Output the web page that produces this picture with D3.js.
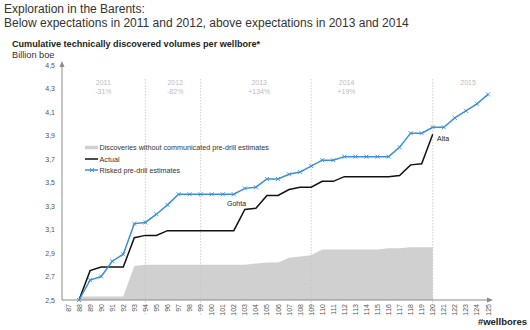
<!DOCTYPE html>
<html>
<head>
<meta charset="utf-8">
<script src="https://cdn.jsdelivr.net/npm/d3@7"></script>
<style>
  body { margin: 0; background: #fff; }
  svg { display: block; font-family: "Liberation Sans", Arial, sans-serif; }
</style>
</head>
<body>
<svg id="chart" width="530" height="330"></svg>
<script>
// wellbore numbers on the x axis
const wellbores = d3.range(87, 126);

const actualWells = d3.range(88, 121);
const actual = [2.5, 2.75, 2.78, 2.78, 2.78, 3.03, 3.05, 3.05, 3.09, 3.09, 3.09, 3.09, 3.09, 3.09, 3.09,
  3.27, 3.28, 3.39, 3.39, 3.44, 3.46, 3.46, 3.51, 3.51, 3.55, 3.55, 3.55, 3.55, 3.55, 3.56, 3.65, 3.66, 3.91];

const riskedWells = d3.range(88, 126);
const risked = [2.5, 2.67, 2.7, 2.83, 2.89, 3.15, 3.16, 3.23, 3.31, 3.4, 3.4, 3.4, 3.4, 3.4, 3.4,
  3.45, 3.46, 3.53, 3.53, 3.57, 3.59, 3.64, 3.69, 3.69, 3.72, 3.72, 3.72, 3.72, 3.72, 3.8, 3.92, 3.92, 3.97,
  3.97, 4.05, 4.11, 4.17, 4.25];

const noEstWells = d3.range(88, 121);
const noEst = [2.53, 2.53, 2.53, 2.53, 2.53, 2.79, 2.8, 2.8, 2.8, 2.8, 2.8, 2.8, 2.8, 2.8, 2.8,
  2.8, 2.81, 2.82, 2.82, 2.86, 2.87, 2.88, 2.93, 2.93, 2.93, 2.93, 2.93, 2.93, 2.94, 2.94, 2.95, 2.95, 2.95];

const yTicks = [2.5, 2.7, 2.9, 3.1, 3.3, 3.5, 3.7, 3.9, 4.1, 4.3, 4.5];
const yearBreaks = [94, 99, 109, 120];
const yearLabels = ["2011", "2012", "2013", "2014", "2015"];
const yearChanges = ["-31%", "-82%", "+134%", "+19%", ""];
const yearPos = [90.2, 96.7, 104.3, 112.2, 123.2];

const svg = d3.select("#chart");

const x = d3.scaleLinear().domain([87, 125]).range([68, 488]);
const y = d3.scaleLinear().domain([2.5, 4.5]).range([300, 65]);

const BLUE = "#3a90d8";
const AXIS = "#8a8a8a";

// titles
svg.append("text").attr("x", 4).attr("y", 13).attr("font-size", 12).attr("fill", "#333")
  .text("Exploration in the Barents:");
svg.append("text").attr("x", 4).attr("y", 27).attr("font-size", 12).attr("fill", "#333")
  .text("Below expectations in 2011 and 2012, above expectations in 2013 and 2014");
svg.append("text").attr("x", 12).attr("y", 47).attr("font-size", 9.1).attr("font-weight", "bold")
  .attr("fill", "#222").text("Cumulative technically discovered volumes per wellbore*");
svg.append("text").attr("x", 12).attr("y", 57.5).attr("font-size", 9.2).attr("fill", "#333")
  .text("Billion boe");

// grey area
const area = d3.area()
  .x((d, i) => x(noEstWells[i]))
  .y0(y(2.5))
  .y1(d => y(d));
svg.append("path").datum(noEst).attr("d", area).attr("fill", "#d0d0d0");

// year separators
svg.append("g").selectAll("line").data(yearBreaks).join("line")
  .attr("x1", d => x(d)).attr("x2", d => x(d))
  .attr("y1", 79).attr("y2", 316)
  .attr("stroke", "#c4c4c4").attr("stroke-width", 0.8).attr("stroke-dasharray", "1.5,1.5");

// year annotations
const yr = svg.append("g").attr("font-size", 7).attr("fill", "#bdbdbd").attr("text-anchor", "middle");
yr.selectAll(".yl").data(yearLabels).join("text").attr("class", "yl")
  .attr("x", (d, i) => x(yearPos[i])).attr("y", 85).text(d => d);
yr.selectAll(".yc").data(yearChanges).join("text").attr("class", "yc")
  .attr("x", (d, i) => x(yearPos[i])).attr("y", 94).text(d => d);

// axes
svg.append("line").attr("x1", 62).attr("x2", 62).attr("y1", 300).attr("y2", 65)
  .attr("stroke", AXIS).attr("stroke-width", 1);
svg.append("path").attr("d", "M59.5,67 L62,61 L64.5,67 Z").attr("fill", AXIS);
svg.append("line").attr("x1", 62).attr("x2", 489).attr("y1", 300).attr("y2", 300)
  .attr("stroke", AXIS).attr("stroke-width", 1);
svg.append("path").attr("d", "M487,297.5 L493,300 L487,302.5 Z").attr("fill", AXIS);

svg.append("g").attr("font-size", 7).attr("fill", "#555").attr("text-anchor", "end")
  .selectAll("text").data(yTicks).join("text")
  .attr("x", 55).attr("y", d => y(d) + 2.5)
  .text(d => d3.format(".1f")(d).replace(".", ","));

svg.append("g").attr("font-size", 7).attr("fill", "#555").attr("text-anchor", "end")
  .selectAll("text").data(wellbores).join("text")
  .attr("transform", d => `translate(${x(d) + 2.5},304) rotate(-90)`)
  .text(d => d);

svg.append("text").attr("x", 527).attr("y", 325).attr("text-anchor", "end")
  .attr("font-size", 9.5).attr("font-weight", "bold").attr("fill", "#222").text("#wellbores");

// lines
const lineA = d3.line().x((d, i) => x(actualWells[i])).y(d => y(d));
svg.append("path").datum(actual).attr("d", lineA)
  .attr("fill", "none").attr("stroke", "#111").attr("stroke-width", 1.5);

const lineR = d3.line().x((d, i) => x(riskedWells[i])).y(d => y(d));
svg.append("path").datum(risked).attr("d", lineR)
  .attr("fill", "none").attr("stroke", BLUE).attr("stroke-width", 1.5);

const cross = "M-2,-2L2,2M-2,2L2,-2";
svg.append("g").selectAll("path").data(risked).join("path")
  .attr("transform", (d, i) => `translate(${x(riskedWells[i])},${y(d)})`)
  .attr("d", cross).attr("stroke", BLUE).attr("stroke-width", 0.9);

// point labels
svg.append("text").attr("x", 227).attr("y", 206).attr("font-size", 7).attr("fill", "#222").text("Gohta");
svg.append("text").attr("x", 437).attr("y", 141).attr("font-size", 7).attr("fill", "#222").text("Alta");

// legend
const lg = svg.append("g").attr("font-size", 7.2).attr("fill", "#333");
lg.append("line").attr("x1", 85).attr("x2", 98).attr("y1", 147.5).attr("y2", 147.5)
  .attr("stroke", "#d0d0d0").attr("stroke-width", 3.5);
lg.append("text").attr("x", 99.5).attr("y", 150).text("Discoveries without communicated pre-drill estimates");
lg.append("line").attr("x1", 85).attr("x2", 98).attr("y1", 159).attr("y2", 159)
  .attr("stroke", "#111").attr("stroke-width", 1.5);
lg.append("text").attr("x", 99.5).attr("y", 161.7).text("Actual");
lg.append("line").attr("x1", 85).attr("x2", 98).attr("y1", 170).attr("y2", 170)
  .attr("stroke", BLUE).attr("stroke-width", 1.5);
lg.append("path").attr("transform", "translate(92,170)").attr("d", cross)
  .attr("stroke", BLUE).attr("stroke-width", 0.9);
lg.append("text").attr("x", 99.5).attr("y", 172.5).text("Risked pre-drill estimates");
</script>
</body>
</html>
